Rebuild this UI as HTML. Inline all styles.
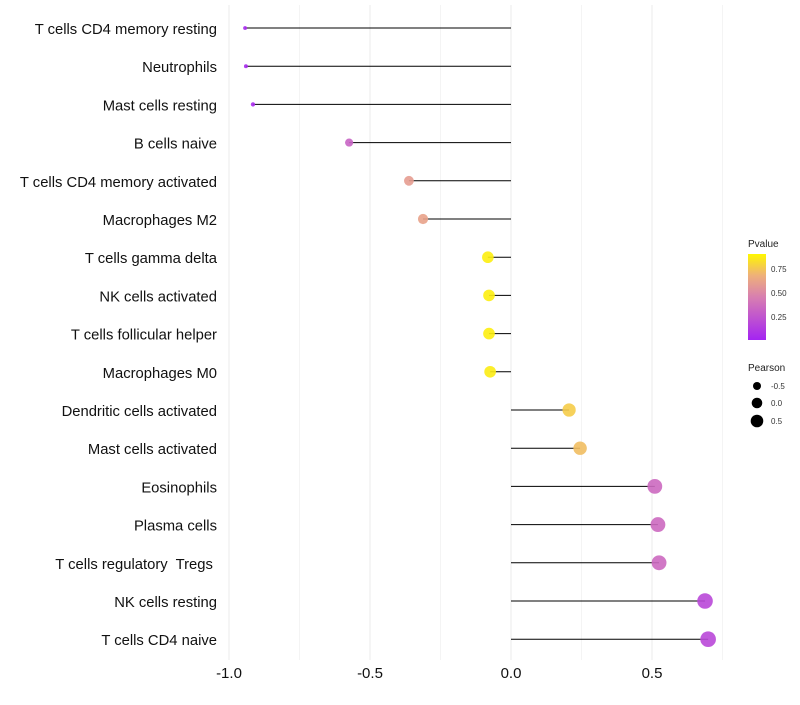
<!DOCTYPE html>
<html><head><meta charset="utf-8"><style>
body{margin:0;background:#fff;font-family:"Liberation Sans",sans-serif}
svg text{font-family:"Liberation Sans",sans-serif;white-space:pre}
</style></head><body>
<svg id="chart" width="800" height="700" xmlns="http://www.w3.org/2000/svg">
<g id="grid"></g>
<g id="marks"></g>
<g id="ylabels"></g>
<g id="xlabels"></g>
<g id="legend">
<defs><linearGradient id="pg" x1="0" y1="1" x2="0" y2="0">
<stop offset="0" stop-color="#a424f2"/><stop offset="0.5" stop-color="#d87fb0"/><stop offset="0.75" stop-color="#eeb07a"/><stop offset="1" stop-color="#fff700"/></linearGradient></defs>
<text x="748" y="247" font-size="10" fill="#222">Pvalue</text>
<rect x="748" y="254" width="18" height="86" fill="url(#pg)"/>
<text x="771" y="272" font-size="8" fill="#333">0.75</text>
<text x="771" y="296" font-size="8" fill="#333">0.50</text>
<text x="771" y="320" font-size="8" fill="#333">0.25</text>
<text x="748" y="371" font-size="10" fill="#222">Pearson</text>
<circle cx="757" cy="386" r="4" fill="#000"/>
<circle cx="757" cy="403" r="5.3" fill="#000"/>
<circle cx="757" cy="421" r="6.3" fill="#000"/>
<text x="771" y="389" font-size="8" fill="#333">-0.5</text>
<text x="771" y="406" font-size="8" fill="#333">0.0</text>
<text x="771" y="424" font-size="8" fill="#333">0.5</text>
</g>
</svg>
<script>
const categories=["T cells CD4 memory resting","Neutrophils","Mast cells resting","B cells naive","T cells CD4 memory activated","Macrophages M2","T cells gamma delta","NK cells activated","T cells follicular helper","Macrophages M0","Dendritic cells activated","Mast cells activated","Eosinophils","Plasma cells","T cells regulatory  Tregs ","NK cells resting","T cells CD4 naive"];
const pearson=[-0.943,-0.94,-0.915,-0.574,-0.362,-0.312,-0.082,-0.078,-0.078,-0.074,0.206,0.245,0.51,0.521,0.525,0.688,0.699];
const pvalues=[0.03,0.03,0.04,0.35,0.65,0.68,0.97,0.97,0.97,0.96,0.85,0.8,0.38,0.38,0.38,0.2,0.2];
const xTicks=[-1.0,-0.5,0.0,0.5];
const xTickLabels=["-1.0","-0.5","0.0","0.5"];
const NS="http://www.w3.org/2000/svg";
const x=v=>511+v*282;
const y=i=>28+i*38.2;
const rad=v=>Math.sqrt(3.5+35*Math.max(0,v+0.95));
function col(p){const st=[[0,[164,36,242]],[0.5,[216,127,176]],[0.75,[238,176,122]],[1,[255,247,0]]];
for(let k=1;k<st.length;k++){if(p<=st[k][0]){const a=st[k-1],b=st[k],t=(p-a[0])/(b[0]-a[0]);return `rgb(${a[1].map((c,j)=>Math.round(c+(b[1][j]-c)*t)).join(",")})`;}}return "rgb(255,247,0)";}
function mk(tag,attrs,parent){const e=document.createElementNS(NS,tag);for(const k in attrs)e.setAttribute(k,attrs[k]);parent.appendChild(e);return e;}
const grid=document.getElementById("grid"),marks=document.getElementById("marks"),yl=document.getElementById("ylabels"),xl=document.getElementById("xlabels");
for(let v=-1;v<=0.76;v+=0.25){const g=mk("line",{x1:x(v),x2:x(v),y1:5,y2:660,stroke:Math.abs(v*2-Math.round(v*2))<1e-6?"#ebebeb":"#f4f4f4","stroke-width":1},grid);

}
xTicks.forEach((v,i)=>{const t=mk("text",{x:x(v),y:678,"font-size":15,fill:"#111","text-anchor":"middle"},xl);t.textContent=xTickLabels[i];

});
categories.forEach((c,i)=>{
const l=mk("line",{x1:x(0),x2:x(pearson[i]),y1:y(i),y2:y(i),stroke:"#000","stroke-width":1},marks);


const d=mk("circle",{cx:x(pearson[i]),cy:y(i),r:rad(pearson[i]),fill:col(pvalues[i]),"fill-opacity":0.9},marks);


const t=mk("text",{x:217,y:y(i)+6,"font-size":14.8,fill:"#111","text-anchor":"end"},yl);t.textContent=c;


});
</script>
</body></html>
